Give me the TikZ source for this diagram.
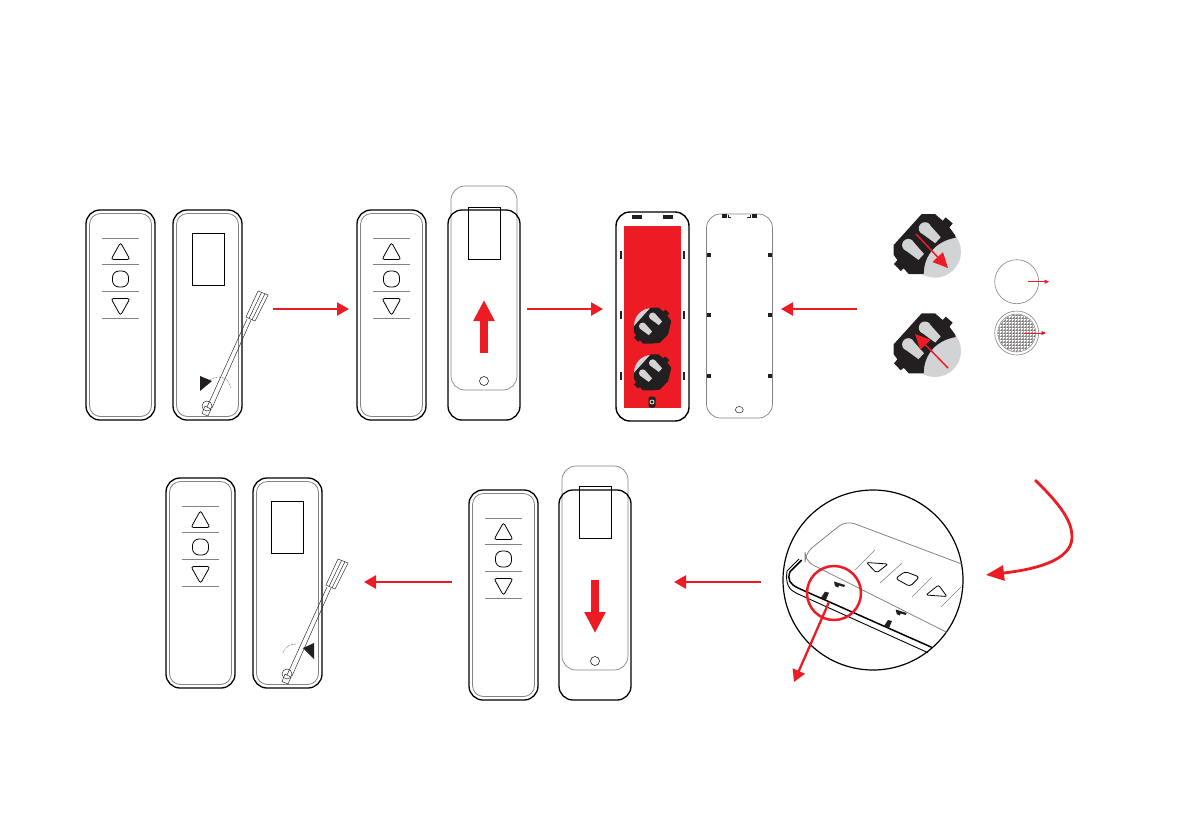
\documentclass[tikz,border=0pt]{standalone}
\usepackage{tikz}
\usetikzlibrary{arrows.meta,positioning,calc,shapes.geometric}
\definecolor{signal}{RGB}{237,28,36}
\definecolor{edge}{RGB}{130,130,130}
\definecolor{coin}{RGB}{209,211,212}
\definecolor{ink}{RGB}{35,31,32}

\newcommand{\frontremote}[3]{%
  \node[bodyline,minimum width=69pt,minimum height=210pt] (#1) at (#2+34.5,#3+105) {};
  \node[innerline,minimum width=62pt,minimum height=203pt] (#1in) at (#1) {};
  \foreach \dy in {28,54,81,108}
    \draw[edge,line width=.7pt] (#2+16,#3+\dy) -- (#2+53,#3+\dy);
  \draw[btn] (#2+34.5,#3+32.5) -- (#2+44,#3+49.5) -- (#2+25,#3+49.5) -- cycle;
  \node[btn,minimum size=16pt,inner sep=0pt,rounded corners=6.5pt] (#1ok) at (#2+34.5,#3+69) {};
  \draw[btn] (#2+25,#3+88.5) -- (#2+44,#3+88.5) -- (#2+34.5,#3+105.5) -- cycle;
}
\newcommand{\driver}[2]{%
  \begin{scope}[shift={(#1,#2)}]
    \draw[thinline] (54,-125) -- (64,-121) -- (51,-95) -- (42,-99) -- cycle;
    \draw[thinline] (57.5,-123.5) -- (45,-97.5) (61,-122.5) -- (48,-96);
    \draw[thinline] (43,-97) -- (3,-9) (47,-96) -- (8,-8);
    \draw[thinline] (1,-10) -- (7,-7) -- (4,0) -- (-2,-2.5) -- cycle;
    \draw[thinline] (3,-10) circle (5);
  \end{scope}
}
\newcommand{\holder}[6]{% x, y, scale, disc x, disc y / radius, right edge
  \begin{scope}[shift={(#1,#2)},scale=#3]
    \fill[coin] #4 circle (#5);
    \fill[ink] (-5,-32.7) -- (8.3,-32.7) -- (16,-26) -- (19,-29.3) -- (26,-23.3)
      -- (22.7,-19.3) -- (28.3,-11.7) -- (29,-9) #6 (-3,27.3) -- (-18,27.3) -- (-23,21.7)
      -- (-26,24.3) -- (-32.7,17.3) -- (-29.3,13.3) -- (-33,8.3) -- (-33,-1.7) -- cycle;
    \foreach \dx/\dy in {0/0,-16.7/16.7}
      \fill[coin,shift={(\dx,\dy)}] (-1.7,-18.3) circle (6.2)
        (2,-23) -- (14,-9.5) -- (8.5,-3.5) -- (-6.5,-14.5) -- cycle;
  \end{scope}
}

\begin{document}
\begin{tikzpicture}[x=1pt,y=-1pt,
  bodyline/.style={draw=black,rounded corners=14pt,line width=1.3pt,inner sep=0pt},
  innerline/.style={draw=edge,rounded corners=11pt,line width=.8pt,inner sep=0pt},
  cover/.style={draw=edge,rounded corners=14pt,line width=.7pt,inner sep=0pt},
  window/.style={draw=black,line width=.8pt,inner sep=0pt,minimum width=32pt,minimum height=52pt},
  btn/.style={draw=black,line width=.8pt,rounded corners=2.5pt},
  thinline/.style={draw=ink,line width=.45pt},
  dotarc/.style={draw=ink,line width=.5pt,densely dotted},
  stud/.style={fill=ink,inner sep=0pt},
  ar/.style={-{Triangle[length=12pt,width=13pt]},line width=2.3pt,draw=signal},
  swoopar/.style={-{Triangle[length=18pt,width=15pt]},line width=2.8pt,draw=signal},
  fatar/.style={-{Triangle[length=21pt,width=20pt]},line width=7.5pt,draw=signal},
  slimar/.style={-{Triangle[length=15pt,width=14pt]},line width=1.5pt,draw=signal},
  hairar/.style={-{Triangle[length=4.5pt,width=4pt]},line width=.5pt,draw=signal}]
\useasboundingbox (0,0) rectangle (1191,839);

% first row, opening
\frontremote{fronta}{86}{210}
\node[bodyline,minimum width=69pt,minimum height=210pt] (backa) at (207.5,315) {};
\node[innerline,minimum width=62pt,minimum height=203pt] (backain) at (backa) {};
\node[window] (wina) at (208,259) {};
\driver{204}{416}
\fill[ink] (200,376) -- (212,381) -- (200,391) -- cycle;
\draw[dotarc] (208,381) .. controls (218,374) and (228,376) .. (231,388);

\frontremote{frontb}{357}{210}
\node[cover,minimum width=66pt,minimum height=204pt] (covb) at (484,288) {};
\node[bodyline,minimum width=72pt,minimum height=210pt] (backb) at (484,315) {};
\node[window] (winb) at (484,233) {};
\node[circle,draw=black,line width=.5pt,minimum size=9pt,inner sep=0pt] (holeb) at (484,381) {};
\coordinate (upa) at (484,353);
\coordinate (upb) at (484,300);
\draw[fatar] (upa) -- (upb);

% open remote with the batteries
\node[bodyline,minimum width=73pt,minimum height=209pt,line width=1.4pt] (open) at (652.5,316.5) {};
\node[fill=signal,inner sep=0pt,minimum width=57pt,minimum height=182pt] (tray) at (652.5,317) {};
\holder{653.7}{327.2}{.6}{(-3.7,-2.7)}{29}{-- (24,12) -- (10,26) --}
\holder{653.7}{374}{.6}{(-3.7,-2.7)}{29}{-- (24,12) -- (10,26) --}
\node[stud,rounded corners=2pt,minimum width=7pt,minimum height=11pt] (latch) at (652,402) {};
\node[circle,draw=white,line width=.7pt,minimum size=4pt,inner sep=0pt] (latchin) at (652,402) {};
\foreach \cx in {637,668}
  \node[stud,minimum width=10pt,minimum height=3.5pt] at (\cx,217) {};
\foreach \cy in {255,315,376} {
  \node[stud,minimum width=2.5pt,minimum height=8pt] at (621,\cy) {};
  \node[stud,minimum width=2.5pt,minimum height=8pt] at (684,\cy) {};
  \node[stud,minimum size=4pt] at (709,\cy) {};
  \node[stud,minimum size=4pt] at (770,\cy) {};
}
\node[cover,minimum width=66pt,minimum height=204pt] (lid) at (739.5,316) {};
\foreach \cx in {724,754}
  \node[stud,minimum width=5pt,minimum height=4pt] at (\cx,216) {};
\draw[ink,line width=.5pt] (728,214.5) -- (728,217) -- (731,217) (750,214.5) -- (750,217) -- (747,217);
\node[ellipse,draw=ink,line width=.5pt,minimum width=8pt,minimum height=6.5pt,inner sep=0pt] (lidhole) at (739.3,409.7) {};

% enlarged holders and the two faces of the battery
\holder{926.7}{246.7}{1}{(8.3,5)}{26}{.. controls (6,-5) and (-3,12) ..}
\holder{926.7}{346}{1}{(8.3,5)}{26}{.. controls (6,-5) and (-3,12) ..}
\coordinate (cella) at (916,234);
\coordinate (cellb) at (948,268);
\coordinate (cellc) at (948,368);
\coordinate (celld) at (915,334);
\draw[slimar] (cella) -- (cellb);
\draw[slimar] (cellc) -- (celld);
\node[circle,draw=edge,line width=.6pt,minimum size=44pt,inner sep=0pt] (plus) at (1016.7,281.7) {};
\begin{scope}[shift={(1016.7,333)}]
  \clip (0,0) circle (18.5);
  \draw[ink!40,line width=.4pt] (-21pt,-21pt) grid[step=3pt] (21pt,21pt);
  \foreach \gx in {-18,-15,...,18}
    \foreach \gy in {-18,-15,...,18}
      \fill[ink] (\gx,\gy) circle (.65);
\end{scope}
\node[circle,draw=edge,line width=.6pt,minimum size=44pt,inner sep=0pt] (minus) at (1016.7,333) {};
\node[circle,draw=edge,line width=.5pt,minimum size=38pt,inner sep=0pt] (minusin) at (minus) {};
\coordinate (plusa) at (1028,281.7);
\coordinate (plusb) at (1049,281.7);
\coordinate (minusa) at (1024,333);
\coordinate (minusb) at (1046,333);
\draw[hairar] (plusa) -- (plusb);
\draw[hairar] (minusa) -- (minusb);

% arrows of the first row
\coordinate (s1a) at (273,309);
\coordinate (s1b) at (349,309);
\coordinate (s2a) at (527,309);
\coordinate (s2b) at (603,309);
\coordinate (s3a) at (857,309);
\coordinate (s3b) at (781,309);
\draw[ar] (s1a) -- (s1b);
\draw[ar] (s2a) -- (s2b);
\draw[ar] (s3a) -- (s3b);

% enlarged edge
\node[circle,draw=black,line width=1.2pt,minimum size=180pt,inner sep=0pt] (lens) at (873,580) {};
\draw[edge,line width=.8pt,rounded corners=9pt] (961.7,564) -- (846,520.5) -- (805,553.3)
  -- (805,561) -- (946.7,632.3);
\draw[edge,line width=.6pt] (855,570) -- (875,550) (880,583) -- (902,563)
  (912,597) -- (932,577) (941,607) -- (961,587);
\draw[btn,rounded corners=2pt] (866.5,562.5) -- (888,564) -- (876.5,573) -- cycle;
\draw[btn,rounded corners=3pt] (895.5,578.5) -- (905,571.5) -- (919.5,577) -- (910,586.5) -- cycle;
\draw[btn,rounded corners=2pt] (926,595) -- (938.5,585) -- (947,596.5) -- cycle;
\draw[black,line width=1.5pt] (801.7,560) -- (790,571.7) .. controls (787,580) and (790,584) .. (798,588) -- (931.7,647.3);
\draw[black,line width=.9pt] (799,559) -- (787,571) .. controls (785,585) and (790,590) .. (796,593) -- (928,652.7);
\foreach \mx/\my in {840/585,901.7/613}
  \fill[ink] (\mx-6,\my-3.5) -- (\mx+5,\my) -- (\mx+4,\my+2) -- (\mx-1,\my+.5) -- (\mx-2,\my+2.5) -- (\mx-5,\my+1) -- cycle;
\foreach \mx/\my in {825/595.7,888/624}
  \fill[ink] (\mx,\my-4) -- (\mx+4,\my-3) -- (\mx+1,\my+4) -- (\mx-4,\my+2) -- cycle;
\node[circle,draw=signal,line width=2.5pt,minimum size=54pt,inner sep=0pt] (spot) at (834,593) {};
\coordinate (spotb) at (794,682);
\draw[ar] (spot) ++(-5,9) -- (spotb);
\coordinate (swoopa) at (1035,480);
\coordinate (swoopb) at (986,575);
\draw[swoopar] (swoopa) .. controls (1062,506) and (1072,522) .. (1072,537)
  .. controls (1072,562) and (1030,570) .. (swoopb);

% second row, closing
\frontremote{frontc}{469}{490}
\node[cover,minimum width=66pt,minimum height=204pt] (covc) at (595,568) {};
\node[bodyline,minimum width=72pt,minimum height=210pt] (backc) at (595,595) {};
\node[window] (winc) at (595,512) {};
\node[circle,draw=black,line width=.5pt,minimum size=9pt,inner sep=0pt] (holec) at (595,661) {};
\coordinate (dna) at (595,580);
\coordinate (dnb) at (595,633);
\draw[fatar] (dna) -- (dnb);

\frontremote{frontd}{166}{478}
\node[bodyline,minimum width=69pt,minimum height=210pt] (backd) at (287.5,583) {};
\node[innerline,minimum width=62pt,minimum height=203pt] (backdin) at (backd) {};
\node[window] (wind) at (287,527) {};
\driver{284}{684}
\fill[ink] (303,648) -- (314,643) -- (314,659) -- cycle;
\draw[dotarc] (283,653) .. controls (284,648) and (289,644) .. (296,644);

\coordinate (s4a) at (761,582);
\coordinate (s4b) at (674,582);
\coordinate (s5a) at (452,582);
\coordinate (s5b) at (364,582);
\draw[ar] (s4a) -- (s4b);
\draw[ar] (s5a) -- (s5b);
\end{tikzpicture}
\end{document}
